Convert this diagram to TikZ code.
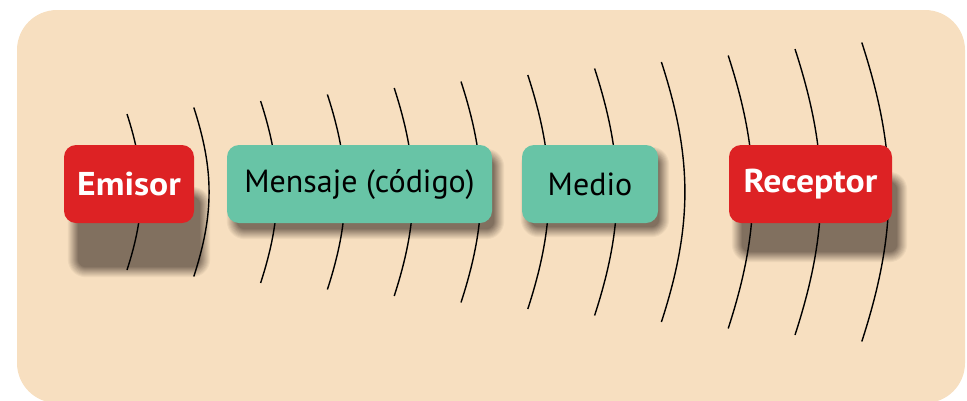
\documentclass[tikz,border=0pt]{standalone}
\usepackage{fontspec}
\setmainfont{PT Sans}
\newfontfamily\labelboldfont[FakeStretch=1.08]{PT Sans Bold}
\pgfdeclarelayer{panellayer}
\pgfdeclarelayer{shadowlayer}
\pgfdeclarelayer{wavelayer}
\pgfsetlayers{panellayer,shadowlayer,wavelayer,main}
\definecolor{sand}{RGB}{247,223,192}
\definecolor{shadowbrown}{RGB}{128,111,94}
\definecolor{signalred}{RGB}{221,34,36}
\definecolor{mint}{RGB}{104,196,166}
\tikzstyle{panel} = [fill=sand, rounded corners=40pt]
\tikzstyle{block} = [rectangle, rounded corners=12pt, minimum height=78pt, text centered, inner sep=0pt, font=\fontsize{32}{38}\selectfont]
\tikzstyle{endpoint} = [block, fill=signalred, text=white, font=\labelboldfont\fontsize{33}{38}\selectfont]
\tikzstyle{channel} = [block, fill=mint, text=black]
\tikzstyle{wave} = [line width=1.4pt, black]
% soft shadow of a box: node, x offset, y offset (pt, downwards)
\newcommand{\boxshade}[3]{%
  \foreach \k in {6,5,...,-4} {
    \pgfmathtruncatemacro\mix{min(100,(7-\k)*9)}
    \fill[shadowbrown!\mix!sand, rounded corners=12+\k]
      ([xshift={#2-\k}, yshift={-#3-\k}]#1.south west) rectangle ([xshift={#2+\k}, yshift={-#3+\k}]#1.north east);
  }%
}

\begin{document}
\begin{tikzpicture}[x=1pt, y=-1pt, node distance=230.5pt]
    \useasboundingbox (0,0) rectangle (967,400);
    \node (emisor)[endpoint, minimum width=130pt] at (129,184) {Emisor};
    \node (mensaje)[channel, minimum width=265pt, right of=emisor] {Mensaje (código)};
    \node (medio)[channel, minimum width=136pt, right of=mensaje] {Medio};
    \node (receptor)[endpoint, minimum width=163pt, right of=medio, xshift=-10pt] {Receptor};

    \begin{pgfonlayer}{panellayer}
      \fill[panel] (17,10) rectangle (965,403);
    \end{pgfonlayer}
    % shadows under the waves, waves under the boxes
    \begin{pgfonlayer}{shadowlayer}
      \boxshade{emisor}{10}{48}
      \boxshade{mensaje}{6}{10}
      \boxshade{medio}{5}{8}
      \boxshade{receptor}{9}{33}
    \end{pgfonlayer}
    \begin{pgfonlayer}{wavelayer}
      \foreach \i in {0,...,11}
        \draw[wave] ({127+66.8*\i},{114-6.5*\i}) to[bend left=18] ({127+66.8*\i},{270+6.5*\i});
    \end{pgfonlayer}

  \end{tikzpicture}
\end{document}
